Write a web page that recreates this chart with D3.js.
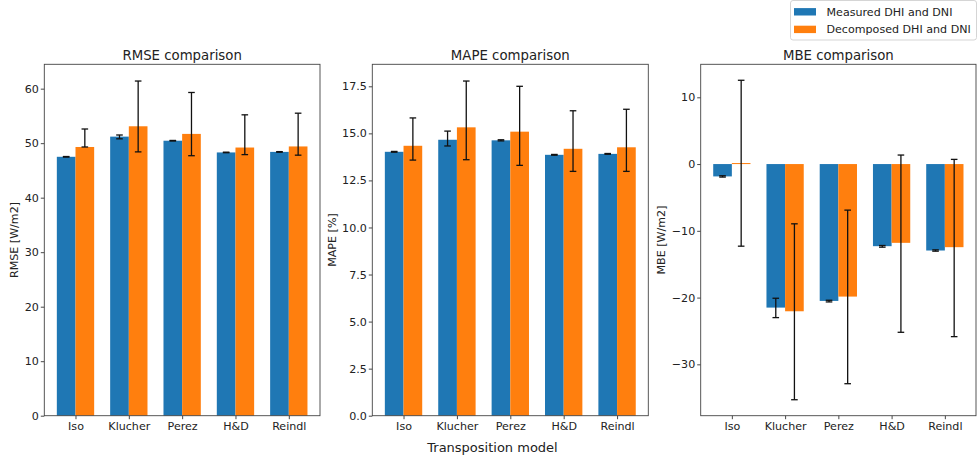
<!DOCTYPE html>
<html>
<head>
<meta charset="utf-8">
<script src="https://cdn.jsdelivr.net/npm/d3@7"></script>
<style>
  html, body { margin: 0; padding: 0; background: #fff; }
  svg { display: block; font-family: "DejaVu Sans", sans-serif; }
</style>
</head>
<body>
<svg id="chart" width="978" height="458"></svg>
<script>
// Transposition models compared
const categories = ["Iso", "Klucher", "Perez", "H&D", "Reindl"];
const seriesNames = ["Measured DHI and DNI", "Decomposed DHI and DNI"];

// RMSE [W/m2]
const rmseMeasured     = [47.5, 51.2, 50.45, 48.3, 48.4];
const rmseMeasuredLo   = [47.45, 50.8, 50.4, 48.25, 48.35];
const rmseMeasuredHi   = [47.55, 51.5, 50.5, 48.35, 48.45];
const rmseDecomposed   = [49.3, 53.1, 51.7, 49.2, 49.4];
const rmseDecomposedLo = [49.3, 48.4, 47.7, 47.9, 47.8];
const rmseDecomposedHi = [52.6, 61.4, 59.3, 55.2, 55.5];

// MAPE [%]
const mapeMeasured     = [14.02, 14.66, 14.63, 13.86, 13.91];
const mapeMeasuredLo   = [14.0, 14.33, 14.6, 13.84, 13.89];
const mapeMeasuredHi   = [14.04, 15.12, 14.66, 13.88, 13.93];
const mapeDecomposed   = [14.34, 15.32, 15.09, 14.18, 14.26];
const mapeDecomposedLo = [13.58, 13.6, 13.3, 12.98, 12.98];
const mapeDecomposedHi = [15.82, 17.78, 17.5, 16.2, 16.28];

// MBE [W/m2]
const mbeMeasured     = [-1.85, -21.5, -20.5, -12.3, -12.95];
const mbeMeasuredLo   = [-1.95, -23.0, -20.65, -12.45, -13.05];
const mbeMeasuredHi   = [-1.75, -20.1, -20.4, -12.2, -12.85];
const mbeDecomposed   = [0.15, -22.05, -19.85, -11.8, -12.45];
const mbeDecomposedLo = [-12.3, -35.3, -32.9, -25.2, -25.85];
const mbeDecomposedHi = [12.55, -8.95, -6.9, 1.35, 0.7];

// Axis ticks
const rmseTicks = [0, 10, 20, 30, 40, 50, 60];
const mapeTicks = [0, 2.5, 5, 7.5, 10, 12.5, 15, 17.5];
const mbeTicks  = [-30, -20, -10, 0, 10];

const colors = ["#1f77b4", "#ff7f0e"];
const barWidth = 0.35;

const panels = [
  { title: "RMSE comparison", ylabel: "RMSE [W/m2]", left: 44.3, right: 320,
    values: [rmseMeasured, rmseDecomposed],
    lo: [rmseMeasuredLo, rmseDecomposedLo], hi: [rmseMeasuredHi, rmseDecomposedHi],
    ticks: rmseTicks, fmt: d3.format("d") },
  { title: "MAPE comparison", ylabel: "MAPE [%]", left: 372.3, right: 648.3,
    values: [mapeMeasured, mapeDecomposed],
    lo: [mapeMeasuredLo, mapeDecomposedLo], hi: [mapeMeasuredHi, mapeDecomposedHi],
    ticks: mapeTicks, fmt: d3.format(".1f") },
  { title: "MBE comparison", ylabel: "MBE [W/m2]", left: 700.7, right: 976,
    values: [mbeMeasured, mbeDecomposed],
    lo: [mbeMeasuredLo, mbeDecomposedLo], hi: [mbeMeasuredHi, mbeDecomposedHi],
    ticks: mbeTicks, fmt: d3.format("d") }
];

const plotTop = 64.3, plotBottom = 415.7;
const svg = d3.select("#chart");
const tickFont = 11.1;

panels.forEach((p, pi) => {
  // x range padded by 5% like the default autoscale
  const xMin = -barWidth, xMax = categories.length - 1 + barWidth;
  const xPad = (xMax - xMin) * 0.05;
  const x = d3.scaleLinear().domain([xMin - xPad, xMax + xPad]).range([p.left, p.right]);

  const all = p.values.flat().concat(p.lo.flat(), p.hi.flat(), [0]);
  const yMin = d3.min(all), yMax = d3.max(all);
  const yPad = (yMax - yMin) * 0.05;
  const y = d3.scaleLinear()
    .domain([yMin < 0 ? yMin - yPad : 0, yMax > 0 ? yMax + yPad : 0])
    .range([plotBottom, plotTop]);

  const g = svg.append("g");

  // bars
  p.values.forEach((vals, si) => {
    const off = si === 0 ? -barWidth / 2 : barWidth / 2;
    g.selectAll(null).data(vals).enter().append("rect")
      .attr("x", (d, i) => x(i + off - barWidth / 2))
      .attr("width", (d, i) => x(i + off + barWidth / 2) - x(i + off - barWidth / 2))
      .attr("y", d => y(Math.max(0, d)))
      .attr("height", d => Math.abs(y(d) - y(0)))
      .attr("fill", colors[si]);
  });

  // error bars
  p.values.forEach((vals, si) => {
    const off = si === 0 ? -barWidth / 2 : barWidth / 2;
    const eg = g.append("g").attr("stroke", "#111").attr("stroke-width", 1.3);
    vals.forEach((d, i) => {
      const cx = x(i + off);
      const ylo = y(p.lo[si][i]), yhi = y(p.hi[si][i]);
      eg.append("line").attr("x1", cx).attr("x2", cx).attr("y1", ylo).attr("y2", yhi);
      eg.append("line").attr("x1", cx - 3.3).attr("x2", cx + 3.3).attr("y1", ylo).attr("y2", ylo);
      eg.append("line").attr("x1", cx - 3.3).attr("x2", cx + 3.3).attr("y1", yhi).attr("y2", yhi);
    });
  });

  // axes
  const xAxis = d3.axisBottom(x)
    .tickValues(d3.range(categories.length))
    .tickFormat(i => categories[i])
    .tickSizeInner(3.5).tickSizeOuter(0).tickPadding(3);
  const yAxis = d3.axisLeft(y)
    .tickValues(p.ticks).tickFormat(p.fmt)
    .tickSizeInner(3.5).tickSizeOuter(0).tickPadding(2);

  const gx = g.append("g").attr("transform", `translate(0,${plotBottom})`).call(xAxis);
  const gy = g.append("g").attr("transform", `translate(${p.left},0)`).call(yAxis);
  [gx, gy].forEach(a => {
    a.select(".domain").remove();
    a.selectAll(".tick line").attr("stroke", "#333").attr("stroke-width", 0.9);
    a.selectAll(".tick text").attr("fill", "#222").style("font-size", tickFont + "px")
      .style("font-family", "DejaVu Sans, sans-serif");
  });

  // frame
  g.append("rect")
    .attr("x", p.left).attr("y", plotTop)
    .attr("width", p.right - p.left).attr("height", plotBottom - plotTop)
    .attr("fill", "none").attr("stroke", "#444").attr("stroke-width", 0.9);

  // title
  g.append("text")
    .attr("x", (p.left + p.right) / 2).attr("y", 60)
    .attr("text-anchor", "middle").attr("fill", "#222")
    .style("font-size", "13.3px").text(p.title);

  // y label placed just left of the widest tick label
  const tickLeft = d3.min(gy.selectAll(".tick text").nodes(), n => p.left + n.getBBox().x);
  const lx = tickLeft - 6.3;
  g.append("text")
    .attr("transform", `translate(${lx},${(plotTop + plotBottom) / 2}) rotate(-90)`)
    .attr("text-anchor", "middle").attr("fill", "#222")
    .style("font-size", tickFont + "px").text(p.ylabel);
});

// shared x label
svg.append("text")
  .attr("x", 492.5).attr("y", 452)
  .attr("text-anchor", "middle").attr("fill", "#222")
  .style("font-size", "13px").text("Transposition model");

// legend
const legend = svg.append("g");
legend.append("rect")
  .attr("x", 790.5).attr("y", 0.5).attr("width", 186).attr("height", 39.5)
  .attr("rx", 2.5).attr("fill", "#fff").attr("stroke", "#d0d0d0").attr("stroke-width", 0.9);
seriesNames.forEach((name, i) => {
  const cy = 11.7 + i * 17.6;
  legend.append("rect")
    .attr("x", 794).attr("y", cy - 3.6).attr("width", 22).attr("height", 7.4)
    .attr("fill", colors[i]);
  legend.append("text")
    .attr("x", 826.5).attr("y", cy + 4)
    .attr("fill", "#222").style("font-size", tickFont + "px").text(name);
});
</script>
</body>
</html>
